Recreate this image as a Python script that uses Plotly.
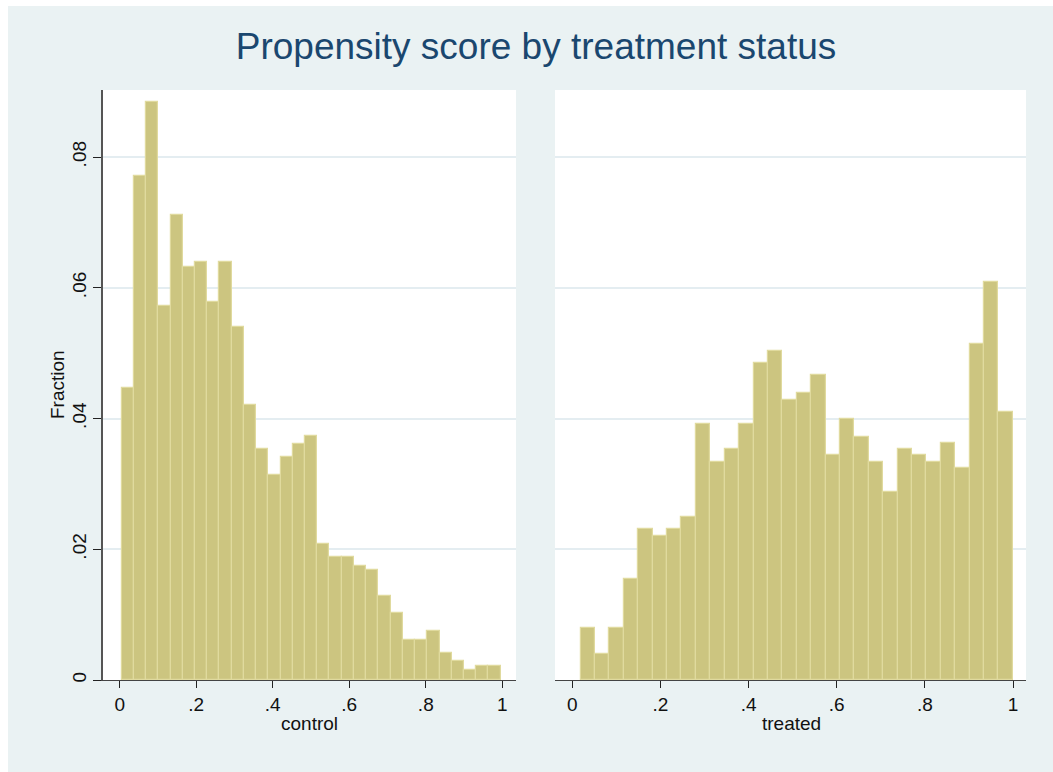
import plotly.graph_objects as go

# ---- data ----
control_start = 0.005
control_width = 0.03196
control_frac = [0.0447, 0.0771, 0.0884, 0.0572, 0.0711, 0.0632, 0.0639, 0.0578, 0.0639, 0.0540,
                0.0421, 0.0353, 0.0314, 0.0341, 0.0361, 0.0373, 0.0208, 0.0188, 0.0188, 0.0174,
                0.0168, 0.0128, 0.0102, 0.0061, 0.0061, 0.0075, 0.0041, 0.0029, 0.0015, 0.0021,
                0.0021]

treated_start = 0.019
treated_width = 0.03268
treated_frac = [0.0079, 0.0040, 0.0079, 0.0154, 0.0231, 0.0220, 0.0231, 0.0249, 0.0391, 0.0334,
                0.0353, 0.0391, 0.0485, 0.0504, 0.0429, 0.0439, 0.0467, 0.0344, 0.0400, 0.0372,
                0.0334, 0.0288, 0.0353, 0.0344, 0.0334, 0.0362, 0.0324, 0.0514, 0.0609, 0.0410]

x_tickvals = [0, 0.2, 0.4, 0.6, 0.8, 1]
x_ticktext = ["0", ".2", ".4", ".6", ".8", "1"]
y_tickvals = [0, 0.02, 0.04, 0.06, 0.08]
y_ticktext = ["0", ".02", ".04", ".06", ".08"]

title_text = "Propensity score by treatment status"
panel_titles = ["control", "treated"]
y_title = "Fraction"

# ---- styling ----
FILL = "#CCC580"
EDGE = "#E0DA9E"
BG = "#EAF2F3"
GRID = "#E4EDF1"
FONT = "Liberation Sans, Arial, sans-serif"

# figure drawn at page origin (body margin removed below)
OX, OY = 0, 0

W, H = 1053, 772
ML = 103 - OX
MT = 90 - OY
MR = W - (1026 - OX)
MB = H - (680 - OY)
PW = W - ML - MR
PH = H - MT - MB


def px_x(x):
    return (x - OX - ML) / PW


def px_y(y):
    return ((680 - OY) - (y - OY)) / PH


def centers(start, width, n):
    return [start + width * (i + 0.5) for i in range(n)]


fig = go.Figure()
fig.add_trace(go.Bar(
    x=centers(control_start, control_width, len(control_frac)), y=control_frac,
    width=control_width, marker=dict(color=FILL, line=dict(color=EDGE, width=1.2)),
    xaxis="x", yaxis="y", showlegend=False, hoverinfo="x+y"))
fig.add_trace(go.Bar(
    x=centers(treated_start, treated_width, len(treated_frac)), y=treated_frac,
    width=treated_width, marker=dict(color=FILL, line=dict(color=EDGE, width=1.2)),
    xaxis="x2", yaxis="y2", showlegend=False, hoverinfo="x+y"))

d1 = [0, px_x(516)]
d2 = [px_x(555), 1]

xcommon = dict(tickmode="array", tickvals=x_tickvals, ticktext=x_ticktext,
               ticks="outside", ticklen=7, tickwidth=1.2, tickcolor="#222222",
               showline=True, linecolor="#444444", linewidth=1.3,
               showgrid=False, zeroline=False,
               tickfont=dict(family=FONT, size=19, color="#111111"),
               ticklabelstandoff=0)

fig.update_layout(
    width=W, height=H,
    margin=dict(l=ML, r=MR, t=MT, b=MB),
    paper_bgcolor=BG, plot_bgcolor="white",
    bargap=0,
    font=dict(family=FONT, color="#111111"),
    title=dict(text=title_text, x=(536 - OX) / W, xref="container", xanchor="center",
               y=1 - (46 - OY) / H, yref="container", yanchor="middle",
               font=dict(family=FONT, size=37, color="#1A476F")),
    xaxis=dict(domain=d1, range=[(103 - 119.7) / 382.6, (516 - 119.7) / 382.6], anchor="y", **xcommon),
    xaxis2=dict(domain=d2, range=[(555 - 572.3) / 440.7, (1026 - 572.3) / 440.7], anchor="y2", **xcommon),
    yaxis=dict(domain=[0, 1], range=[0, 590 / 6537.5], anchor="x",
               tickmode="array", tickvals=y_tickvals, ticktext=y_ticktext,
               tickangle=-90, ticks="outside", ticklen=8, tickwidth=1.2, tickcolor="#222222",
               showline=True, linecolor="#555555", linewidth=1.6,
               showgrid=True, gridcolor=GRID, gridwidth=1.5, zeroline=False,
               tickfont=dict(family=FONT, size=19, color="#111111"),
               ticklabelstandoff=0),
    yaxis2=dict(domain=[0, 1], range=[0, 590 / 6537.5], anchor="x2", matches="y",
                tickmode="array", tickvals=y_tickvals, showticklabels=False,
                ticks="", showline=False,
                showgrid=True, gridcolor=GRID, gridwidth=1.5, zeroline=False),
)

annotations = [
    dict(text=y_title, xref="paper", yref="paper", x=px_x(57), y=0.5,
         textangle=-90, showarrow=False, xanchor="center", yanchor="middle",
         font=dict(family=FONT, size=19, color="#111111")),
    dict(text=panel_titles[0], xref="paper", yref="paper", x=px_x(309.5),
         y=px_y(723), showarrow=False, xanchor="center", yanchor="middle",
         font=dict(family=FONT, size=19, color="#111111")),
    dict(text=panel_titles[1], xref="paper", yref="paper", x=px_x(791),
         y=px_y(723), showarrow=False, xanchor="center", yanchor="middle",
         font=dict(family=FONT, size=19, color="#111111")),
]
fig.update_layout(annotations=annotations)

# white outer border (top and left) as in the reference image
fig.add_shape(type="rect", xref="paper", yref="paper", layer="below",
              x0=px_x(-5), x1=px_x(8), y0=px_y(H + 5), y1=px_y(-5),
              fillcolor="white", line=dict(width=0))
fig.add_shape(type="rect", xref="paper", yref="paper", layer="below",
              x0=px_x(-5), x1=px_x(W + 5), y0=px_y(6), y1=px_y(-5),
              fillcolor="white", line=dict(width=0))

fig.write_html("out.html",
               config={"displayModeBar": False},
               post_script="document.body.style.margin='0px';document.body.style.overflow='hidden';")
